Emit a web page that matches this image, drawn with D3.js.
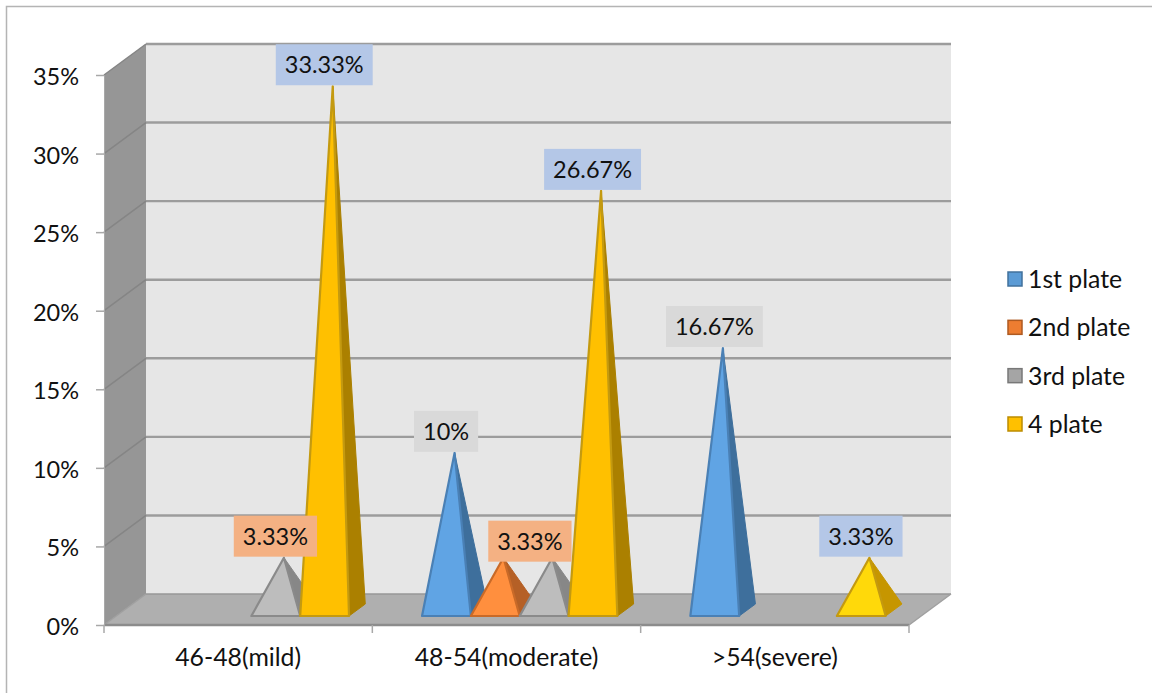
<!DOCTYPE html>
<html>
<head>
<meta charset="utf-8">
<script src="https://cdn.jsdelivr.net/npm/d3@7"></script>
<style>
  html, body { margin: 0; padding: 0; background: #fff; }
  svg { display: block; font-family: Lato, "Open Sans", sans-serif; }
</style>
</head>
<body>
<svg id="chart" width="1152" height="693"></svg>
<script>
const categories = ["46-48(mild)", "48-54(moderate)", ">54(severe)"];
const seriesNames = ["1st plate", "2nd plate", "3rd plate", "4 plate"];
const plate1 = [0, 10, 16.67];
const plate2 = [0, 3.33, 0];
const plate3 = [3.33, 3.33, 0];
const plate4 = [33.33, 26.67, 3.33];
const seriesValues = [plate1, plate2, plate3, plate4];
const yTicks = [0, 5, 10, 15, 20, 25, 30, 35];

// Legend and pyramid colours, one per series
const legendFill = ["#5b9bd5", "#ed7d31", "#a5a5a5", "#ffc000"];
const legendStroke = ["#41719c", "#ae5a21", "#787878", "#bc8c00"];
const frontFill = ["#60a4e4", "#ff8f3e", "#bdbdbd", "#ffc000"];
const sideFill = ["#3e6f9c", "#b56026", "#878787", "#ab8000"];
const edgeStroke = ["#4a80b5", "#c96a28", "#8a8a8a", "#c49a10"];

// Data labels: series index, category index, box colour, nudge in px
const labelBoxes = [
  { s: 2, c: 0, fill: "#f4b183", dx: 0, dy: 0 },
  { s: 3, c: 0, fill: "#b4c7e7", dx: 0, dy: 0 },
  { s: 0, c: 1, fill: "#d9d9d9", dx: 0, dy: 0 },
  { s: 1, c: 1, fill: "#f4b183", dx: 35, dy: 5 },
  { s: 3, c: 1, fill: "#b4c7e7", dx: 0, dy: 0 },
  { s: 0, c: 2, fill: "#d9d9d9", dx: 0, dy: 0 },
  { s: 3, c: 2, fill: "#b4c7e7", dx: 0, dy: 0 }
];

const svg = d3.select("#chart");
const numberSize = 23.5, wordSize = 24.8;
const left = 104, right = 909, depthX = 42, depthY = 31;

const y = d3.scaleLinear().domain([0, 35]).range([625, 75]);
const x = d3.scaleBand().domain(categories).range([left, right]);
const slot = d3.scaleBand().domain(seriesNames)
  .range([37.5, x.bandwidth() - 35.5]);

// Oblique projection: z runs 0 (front plane) to 1 (back wall)
const project = (px, v, z) => [px + depthX * z, y(v) - depthY * z];
const poly = pts => d3.line()(pts) + "Z";

// Chart frame
svg.append("rect").attr("x", 6.5).attr("y", 6.5)
  .attr("width", 1160).attr("height", 700)
  .attr("fill", "#fff").attr("stroke", "#b4b4b4").attr("stroke-width", 1.5);

// Back wall, side wall, floor
svg.append("path")
  .attr("d", poly([project(left, 0, 1), project(left, 35, 1), project(right, 35, 1), project(right, 0, 1)]))
  .attr("fill", "#e6e6e6");
svg.append("path")
  .attr("d", poly([project(left, 0, 0), project(left, 35, 0), project(left, 35, 1), project(left, 0, 1)]))
  .attr("fill", "#969696");
svg.append("path")
  .attr("d", poly([project(left, 0, 0), project(left, 0, 1), project(right, 0, 1), project(right, 0, 0)]))
  .attr("fill", "#afafaf");

// Gridlines wrap from the side wall onto the back wall
const lineGen = d3.line();
yTicks.forEach(t => {
  if (t > 0) {
    svg.append("path")
      .attr("d", lineGen([project(left, t, 1), project(right, t, 1)]))
      .attr("fill", "none").attr("stroke", "#9c9c9c").attr("stroke-width", 2.4);
    svg.append("path")
      .attr("d", lineGen([project(left, t, 0), project(left, t, 1)]))
      .attr("fill", "none").attr("stroke", "#858585").attr("stroke-width", 1.5);
  }
});
svg.append("path")
  .attr("d", lineGen([project(left, 0, 1), project(right, 0, 1)]))
  .attr("fill", "none").attr("stroke", "#979797").attr("stroke-width", 1.5);
svg.append("path")
  .attr("d", lineGen([project(left, 0, 0), project(left, 0, 1)]))
  .attr("fill", "none").attr("stroke", "#a0a0a0").attr("stroke-width", 1.5);
svg.append("path")
  .attr("d", lineGen([project(right, 0, 0), project(right, 0, 1)]))
  .attr("fill", "none").attr("stroke", "#a0a0a0").attr("stroke-width", 1.5);
svg.append("path")
  .attr("d", lineGen([project(left, 0, 0), project(right, 0, 0)]))
  .attr("fill", "none").attr("stroke", "#8c8c8c").attr("stroke-width", 2.4);

// Axes
const yAxis = d3.axisLeft(y).tickValues(yTicks).tickFormat(d => d + "%").tickSize(8).tickPadding(17);
const gy = svg.append("g").attr("transform", `translate(${left},0)`).call(yAxis);
gy.select(".domain").attr("stroke", "#a8a8a8");
gy.selectAll(".tick line").attr("stroke", "#a8a8a8").attr("stroke-width", 1.5);
gy.selectAll(".tick text").attr("font-size", numberSize).attr("font-family", "Lato")
  .attr("fill", "#111").attr("y", 2);

const xAxis = d3.axisBottom(x).tickSize(0).tickPadding(23);
const gx = svg.append("g").attr("transform", "translate(0,625)").call(xAxis);
gx.select(".domain").remove();
gx.selectAll(".tick text").attr("font-size", wordSize).attr("font-family", "Lato").attr("fill", "#111");

const boundaries = categories.map(c => x(c)).concat([right]);
svg.append("g").selectAll("line").data(boundaries).join("line")
  .attr("x1", d => d).attr("x2", d => d)
  .attr("y1", y(0)).attr("y2", y(0) + 8)
  .attr("stroke", "#a8a8a8").attr("stroke-width", 1.5);

// Pyramids, drawn left to right so each one overlaps its neighbour's shaded side
const zFront = 9 / 31, zBack = 21 / 31, zMid = (zFront + zBack) / 2;
const marks = [];
categories.forEach((cat, c) => {
  seriesNames.forEach((name, s) => {
    const v = seriesValues[s][c];
    if (v > 0) marks.push({ c, s, v, x0: x(cat) + slot(name), x1: x(cat) + slot(name) + slot.bandwidth() });
  });
});

const apexOf = m => project((m.x0 + m.x1) / 2, m.v, zMid);

// The lone 4 plate pyramid in the last category uses a brighter yellow
const isSevereTop = m => m.c === 2 && m.s === 3;

const marksG = svg.append("g");
marks.forEach(m => {
  const fl = project(m.x0, 0, zFront), fr = project(m.x1, 0, zFront), br = project(m.x1, 0, zBack);
  const apex = apexOf(m);
  marksG.append("path").attr("d", poly([fr, br, apex]))
    .attr("fill", isSevereTop(m) ? "#c69600" : sideFill[m.s])
    .attr("stroke", isSevereTop(m) ? "#c69600" : sideFill[m.s]).attr("stroke-width", 1).attr("stroke-linejoin", "round");
  marksG.append("path").attr("d", poly([fl, fr, apex]))
    .attr("fill", isSevereTop(m) ? "#ffd90a" : frontFill[m.s])
    .attr("stroke", edgeStroke[m.s]).attr("stroke-width", 2.2).attr("stroke-linejoin", "round");
});

// Value labels on coloured boxes
const labelsG = svg.append("g");
labelBoxes.forEach(l => {
  const v = seriesValues[l.s][l.c];
  const cat = categories[l.c], name = seriesNames[l.s];
  const x0 = x(cat) + slot(name);
  const apex = apexOf({ x0, x1: x0 + slot.bandwidth(), v });
  const text = v + "%";
  const cx = apex[0] - 8.5 + l.dx;
  const bottom = apex[1] - 1 + l.dy;
  const t = labelsG.append("text").attr("x", cx).attr("y", bottom - 12)
    .attr("text-anchor", "middle").attr("font-size", numberSize).attr("fill", "#111").text(text);
  const w = t.node().getComputedTextLength() + 18;
  labelsG.insert("rect", "text").attr("x", cx - w / 2).attr("y", bottom - 41)
    .attr("width", w).attr("height", 41).attr("fill", l.fill);
});

// Legend
const legend = d3.scalePoint().domain(seriesNames).range([279, 424]);
const lg = svg.append("g").selectAll("g").data(seriesNames).join("g")
  .attr("transform", d => `translate(1008,${legend(d)})`);
lg.append("rect").attr("x", 0).attr("y", -7).attr("width", 14).attr("height", 14)
  .attr("fill", (d, i) => legendFill[i]).attr("stroke", (d, i) => legendStroke[i]).attr("stroke-width", 1.5);
lg.append("text").attr("x", 20).attr("y", 9).attr("font-size", wordSize).attr("fill", "#111").text(d => d);
</script>
</body>
</html>
